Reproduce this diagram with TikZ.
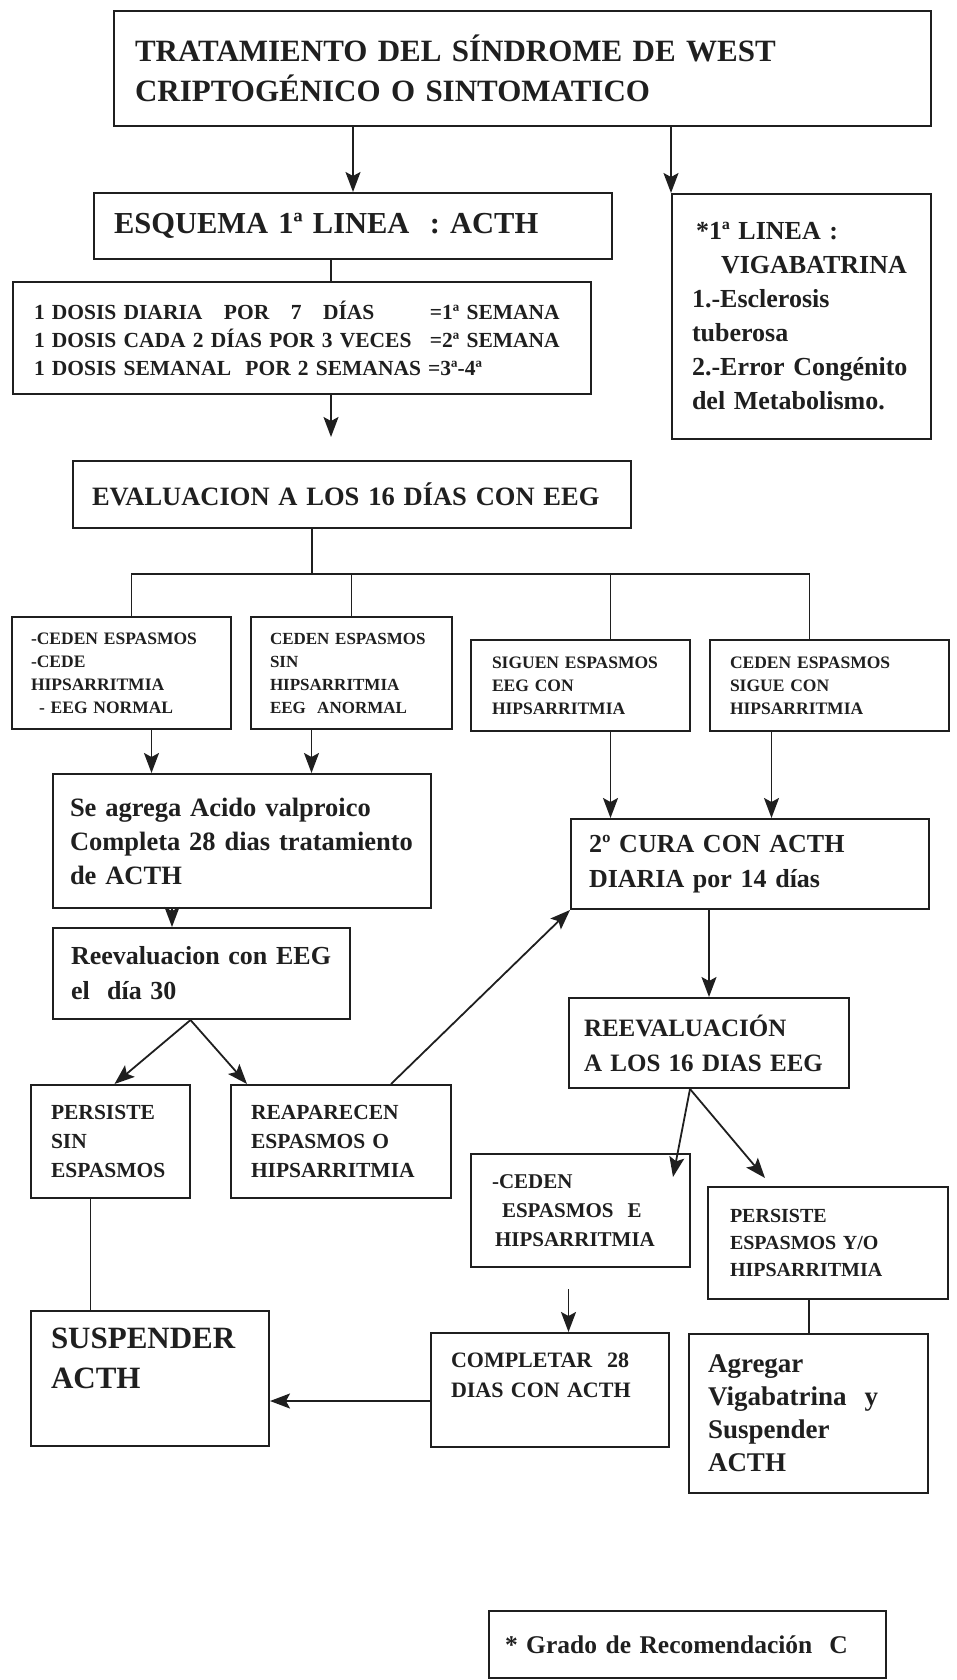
\documentclass[tikz,border=0pt]{standalone}
\usepackage{fontspec}
\setmainfont{Liberation Serif}
\usetikzlibrary{arrows.meta}
\hyphenpenalty=10000
\newcommand{\setsize}[2]{\fontsize{#1}{#2}\selectfont\bfseries}
\definecolor{ink}{gray}{0.12}
\tikzset{
  box/.style={draw=ink, text=ink, line width=2pt, anchor=north west, align=left, inner sep=0pt},
  link/.style={draw=ink, line width=1.8pt},
  arr/.style={link, -{Stealth[length=20pt,width=15pt,inset=4pt]}},
}
\begin{document}
\begin{tikzpicture}[x=1pt, y=-1pt]
\useasboundingbox (0,0) rectangle (956,1680);

\node[box, minimum width=817pt, minimum height=115pt, text width=775pt, font=\setsize{31}{40}] (title) at (113,10)
  {TRATAMIENTO DEL SÍNDROME DE WEST\\CRIPTOGÉNICO O SINTOMATICO};
\node[box, minimum width=518pt, minimum height=66pt, text width=478pt, font=\setsize{30.5}{40}] (esquema) at (93,192)
  {ESQUEMA 1ª LINEA\ \ : ACTH};
\node[box, minimum width=578pt, minimum height=112pt, text width=536pt, font=\setsize{21.5}{28}] (dosis) at (12,281)
  {\makebox[396pt][l]{1 DOSIS DIARIA\ \ \ POR\ \ \ 7\ \ \ DÍAS}=1ª SEMANA\\
   \makebox[396pt][l]{1 DOSIS CADA 2 DÍAS POR 3 VECES}=2ª SEMANA\\
   1 DOSIS SEMANAL\ \ POR 2 SEMANAS =3ª-4ª};
\node[box, minimum width=259pt, minimum height=245pt, text width=219pt, font=\setsize{26}{34}] (viga) at (671,193)
  {\hspace*{4pt}*1ª LINEA :\\\hspace*{29pt}VIGABATRINA\\1.-Esclerosis\\tuberosa\\2.-Error Congénito\\del Metabolismo.};
\node[box, minimum width=558pt, minimum height=67pt, text width=520pt, font=\setsize{26.5}{35}] (eval) at (72,460)
  {EVALUACION A LOS 16 DÍAS CON EEG};

\node[box, minimum width=219pt, minimum height=112pt, text width=181pt, font=\setsize{17.5}{23}] (ceden1) at (11,616)
  {-CEDEN ESPASMOS\\-CEDE\\HIPSARRITMIA\\\hspace*{8pt}- EEG NORMAL};
\node[box, minimum width=201pt, minimum height=112pt, text width=163pt, font=\setsize{17}{23}] (ceden2) at (250,616)
  {CEDEN ESPASMOS\\SIN\\HIPSARRITMIA\\EEG\ \ ANORMAL};
\node[box, minimum width=219pt, minimum height=91pt, text width=177pt, font=\setsize{17.5}{23}] (siguen) at (470,639)
  {SIGUEN ESPASMOS\\EEG CON\\HIPSARRITMIA};
\node[box, minimum width=239pt, minimum height=91pt, text width=199pt, font=\setsize{17.5}{23}] (sigue) at (709,639)
  {CEDEN ESPASMOS\\SIGUE CON\\HIPSARRITMIA};

\node[box, minimum width=378pt, minimum height=134pt, text width=344pt, font=\setsize{26.5}{34}] (valpro) at (52,773)
  {Se agrega Acido valproico\\Completa 28 dias tratamiento\\de ACTH};
\node[box, minimum width=358pt, minimum height=90pt, text width=322pt, font=\setsize{26}{35}] (cura) at (570,818)
  {2º CURA CON ACTH\\DIARIA por 14 días};
\node[box, minimum width=297pt, minimum height=91pt, text width=261pt, font=\setsize{26}{35}] (reeval30) at (52,927)
  {Reevaluacion con EEG\\el\ \ día 30};
\node[box, minimum width=280pt, minimum height=90pt, text width=250pt, font=\setsize{25}{35}] (reeval16) at (568,997)
  {REEVALUACIÓN\\A LOS 16 DIAS EEG};

\node[box, minimum width=159pt, minimum height=113pt, text width=119pt, font=\setsize{21.5}{29}] (sinesp) at (30,1084)
  {PERSISTE\\SIN\\ESPASMOS};
\node[box, minimum width=220pt, minimum height=113pt, text width=180pt, font=\setsize{21.5}{29}] (reaparecen) at (230,1084)
  {REAPARECEN\\ESPASMOS O\\HIPSARRITMIA};
\node[box, minimum width=219pt, minimum height=113pt, text width=177pt, font=\setsize{21}{29}] (cedenE) at (470,1153)
  {-CEDEN\\\hspace*{10pt}ESPASMOS\ \ E\\\hspace*{3pt}HIPSARRITMIA};
\node[box, minimum width=240pt, minimum height=112pt, text width=196pt, font=\setsize{20}{27}] (persiste) at (707,1186)
  {PERSISTE\\ESPASMOS Y/O\\HIPSARRITMIA};

\node[box, minimum width=238pt, minimum height=135pt, text width=198pt, font=\setsize{31}{40}] (suspender) at (30,1310)
  {SUSPENDER\\ACTH\\\mbox{}};
\node[box, minimum width=238pt, minimum height=114pt, text width=198pt, font=\setsize{22}{30}] (completar) at (430,1332)
  {COMPLETAR\ \ 28\\DIAS CON ACTH\\\mbox{}};
\node[box, minimum width=239pt, minimum height=159pt, text width=201pt, font=\setsize{27}{33}] (agregar) at (688,1333)
  {Agregar\\Vigabatrina\ \ y\\Suspender\\ACTH};
\node[box, minimum width=397pt, minimum height=67pt, text width=365pt, font=\setsize{25.5}{35}] (grado) at (488,1610)
  {* Grado de Recomendación\ \ C};

\draw[arr] (title.south -| esquema.north) -- (esquema.north);
\draw[arr] (title.south -| viga.north west) -- (viga.north west);
\draw[link] ([xshift=-22pt]esquema.south) -- ([xshift=-22pt]esquema.south |- dosis.north);
\draw[arr, shorten >=23pt] ([xshift=29pt]dosis.south) -- ([xshift=29pt]dosis.south |- eval.north);

\coordinate (fork) at ([xshift=-40pt,yshift=-45pt]eval.south);
\draw[link] ([xshift=-40pt]eval.south) -- (fork);
\draw[link] ([xshift=10pt]ceden1.north) -- ([xshift=10pt]ceden1.north |- fork) -- ([xshift=-20pt]sigue.north |- fork) -- ([xshift=-20pt]sigue.north);
\draw[link] (ceden2.north) -- (ceden2.north |- fork);
\draw[link] ([xshift=30pt]siguen.north) -- ([xshift=30pt]siguen.north |- fork);

\draw[arr] ([xshift=30pt]ceden1.south) -- ([xshift=30pt]ceden1.south |- valpro.north);
\draw[arr] ([xshift=-40pt]ceden2.south) -- ([xshift=-40pt]ceden2.south |- valpro.north);
\draw[arr] ([xshift=30pt]siguen.south) -- ([xshift=30pt]siguen.south |- cura.north);
\draw[arr] ([xshift=-58pt]sigue.south) -- ([xshift=-58pt]sigue.south |- cura.north);

\draw[arr] ([xshift=-70pt]valpro.south) -- ([xshift=-70pt]valpro.south |- reeval30.north);
\draw[arr] ([xshift=-11pt]reeval30.south) -- ([xshift=4pt]sinesp.north);
\draw[arr] ([xshift=-11pt]reeval30.south) -- ([xshift=17pt]reaparecen.north west);
\draw[arr] ([xshift=50pt]reaparecen.north) -- (cura.south west);
\draw[arr] (reeval16.north |- cura.south) -- (reeval16.north);
\draw[arr] ([xshift=-19pt]reeval16.south) -- ([shift={(-18pt,-24pt)}]cedenE.north east);
\draw[arr] ([xshift=-19pt]reeval16.south) -- ([shift={(58pt,8pt)}]persiste.north west);
\draw[arr, shorten <=21pt] ([xshift=-12pt]cedenE.south) -- ([xshift=-12pt]cedenE.south |- completar.north);
\draw[arr] ([yshift=-11pt]completar.west) -- ([yshift=-11pt]completar.west -| suspender.east);
\draw[link] ([xshift=-20pt]sinesp.south) -- ([xshift=-20pt]sinesp.south |- suspender.north);
\draw[link] ([xshift=-19pt]persiste.south) -- ([xshift=-19pt]persiste.south |- agregar.north);

\end{tikzpicture}
\end{document}
